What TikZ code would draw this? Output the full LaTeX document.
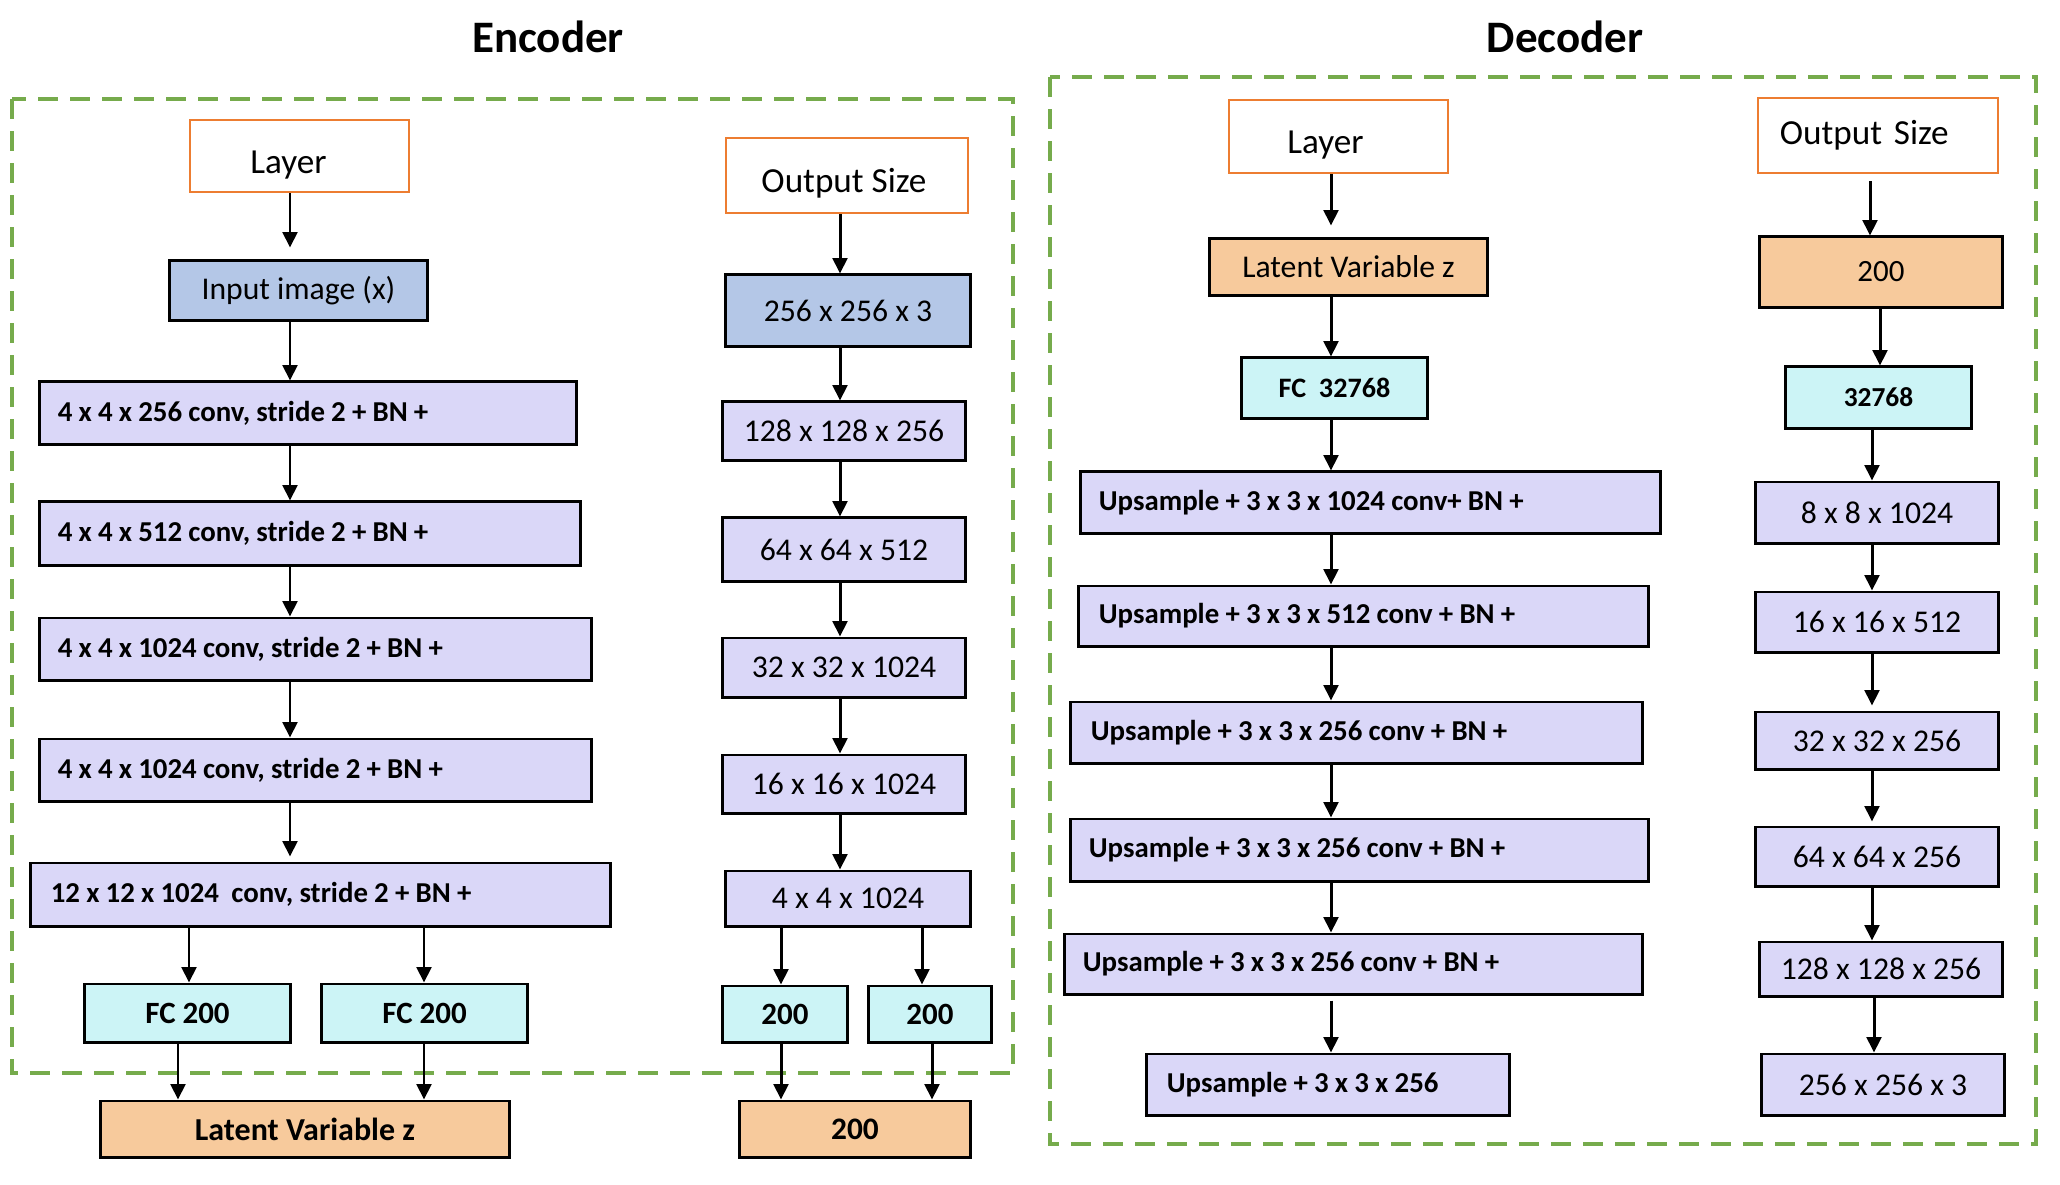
\documentclass[tikz,border=0pt]{standalone}
\usepackage{fontspec}
\setmainfont{Carlito}
\usetikzlibrary{arrows.meta}
\definecolor{lav}{HTML}{DAD7F8}
\definecolor{aqua}{HTML}{CCF4F6}
\definecolor{steel}{HTML}{B4C7E7}
\definecolor{peach}{HTML}{F7CA9C}
\definecolor{rust}{HTML}{ED7D31}
\definecolor{leaf}{HTML}{76AB4C}

\begin{document}
\begin{tikzpicture}[x=0.01cm,y=-0.01cm,
  box/.style={draw, line width=0.85pt, inner sep=0pt},
  hdr/.style={draw=rust, line width=0.75pt, inner sep=0pt, font=\fontsize{10}{12}\selectfont, text height=0.42cm, text depth=0.08cm},
  lyr/.style={box, fill=lav, align=left, inner xsep=0.18cm, font=\bfseries\fontsize{8.2}{10}\selectfont,
    execute at begin node={\spaceskip=0.215em\relax}},
  sz/.style={box, fill=lav, font=\fontsize{9}{11}\selectfont},
  fc/.style={box, fill=aqua, font=\bfseries\fontsize{8.8}{10}\selectfont},
  lat/.style={box, fill=peach},
  inp/.style={box, fill=steel, font=\fontsize{9}{11}\selectfont},
  ttl/.style={font=\bfseries\fontsize{12.8}{15}\selectfont},
  grp/.style={draw=leaf, line width=1.15pt, dash pattern=on 5.7pt off 3.4pt},
  arr/.style={-{Triangle[length=4.4pt,width=4.2pt]}, line width=0.85pt}]
\useasboundingbox (0,0) rectangle (2060,1184);

% Encoder
\node[ttl] (tEnc) at (548,37) {Encoder};
\draw[grp] (12,99) rectangle (1013,1073);

\node[hdr, minimum width=2.19cm, minimum height=0.72cm] (eLay) at (299.5,156) {Layer\kern0.22cm};
\node[inp, minimum width=2.57cm, minimum height=0.59cm] (eIn) at (298.5,290.5) {Input image (x)};
\node[lyr, text width=5.00cm, minimum height=0.62cm] (eC1) at (308,413) {4 x 4 x 256 conv, stride 2 + BN +};
\node[lyr, text width=5.04cm, minimum height=0.63cm] (eC2) at (310,533.5) {4 x 4 x 512 conv, stride 2 + BN +};
\node[lyr, text width=5.15cm, minimum height=0.62cm] (eC3) at (315.5,649) {4 x 4 x 1024 conv, stride 2 + BN +};
\node[lyr, text width=5.15cm, minimum height=0.62cm] (eC4) at (315.5,770) {4 x 4 x 1024 conv, stride 2 + BN +};
\node[lyr, text width=5.39cm, inner xsep=0.20cm, minimum height=0.63cm] (eC5) at (320.5,894.5) {12 x 12 x 1024\ \ conv, stride 2 + BN +};
\node[fc, minimum width=2.05cm, minimum height=0.58cm] (eFa) at (187.5,1013) {FC 200};
\node[fc, minimum width=2.05cm, minimum height=0.58cm] (eFb) at (424.5,1013) {FC 200};
\node[lat, font=\bfseries\fontsize{9.1}{11}\selectfont, minimum width=4.08cm, minimum height=0.56cm] (eZ) at (305,1129) {Latent Variable z};

\node[hdr, minimum width=2.42cm, minimum height=0.75cm] (eOut) at (847,175.5) {Output Size\kern0.06cm};
\node[inp, minimum width=2.44cm, minimum height=0.71cm] (eS0) at (848,310.5) {256 x 256 x 3};
\node[sz, minimum width=2.42cm, minimum height=0.58cm] (eS1) at (844,431) {128 x 128 x 256};
\node[sz, minimum width=2.42cm, minimum height=0.63cm] (eS2) at (844,549.5) {64 x 64 x 512};
\node[sz, minimum width=2.42cm, minimum height=0.59cm] (eS3) at (844,667.5) {32 x 32 x 1024};
\node[sz, minimum width=2.42cm, minimum height=0.58cm] (eS4) at (844,784) {16 x 16 x 1024};
\node[sz, minimum width=2.44cm, minimum height=0.55cm] (eS5) at (848,898.5) {4 x 4 x 1024};
\node[fc, minimum width=1.24cm, minimum height=0.56cm] (eTa) at (785,1014) {200};
\node[fc, minimum width=1.22cm, minimum height=0.56cm] (eTb) at (930,1014) {200};
\node[lat, font=\bfseries\fontsize{8.9}{11}\selectfont, minimum width=2.30cm, minimum height=0.56cm] (eZs) at (855,1129) {200};

\draw[arr, shorten >=0.12cm] (eLay.south -| 290,0) -- (eIn.north -| 290,0);
\draw[arr] (eIn.south -| 290,0) -- (eC1.north -| 290,0);
\draw[arr] (eC1.south -| 290,0) -- (eC2.north -| 290,0);
\draw[arr] (eC2.south -| 290,0) -- (eC3.north -| 290,0);
\draw[arr] (eC3.south -| 290,0) -- (eC4.north -| 290,0);
\draw[arr, shorten >=0.05cm] (eC4.south -| 290,0) -- (eC5.north -| 290,0);
\draw[arr] (eC5.south -| 189,0) -- (eFa.north -| 189,0);
\draw[arr] (eC5.south -| 424,0) -- (eFb.north -| 424,0);
\draw[arr] (eFa.south -| 178,0) -- (eZ.north -| 178,0);
\draw[arr] (eFb.south -| 424,0) -- (eZ.north -| 424,0);

\draw[arr] (eOut.south -| 840,0) -- (eS0.north -| 840,0);
\draw[arr] (eS0.south -| 840,0) -- (eS1.north -| 840,0);
\draw[arr] (eS1.south -| 840,0) -- (eS2.north -| 840,0);
\draw[arr] (eS2.south -| 840,0) -- (eS3.north -| 840,0);
\draw[arr] (eS3.south -| 840,0) -- (eS4.north -| 840,0);
\draw[arr] (eS4.south -| 840,0) -- (eS5.north -| 840,0);
\draw[arr] (eS5.south -| 781,0) -- (eTa.north -| 781,0);
\draw[arr] (eS5.south -| 922,0) -- (eTb.north -| 922,0);
\draw[arr] (eTa.south -| 781,0) -- (eZs.north -| 781,0);
\draw[arr] (eTb.south -| 932,0) -- (eZs.north -| 932,0);

%-------------------------------------
% Decoder
\node[ttl] (tDec) at (1565,37) {Decoder};
\draw[grp] (1050,77) rectangle (2036,1144);

\node[hdr, minimum width=2.19cm, minimum height=0.73cm] (dLay) at (1338.5,136.5) {Layer\kern0.26cm};
\node[lat, font=\fontsize{9}{11}\selectfont, minimum width=2.77cm, minimum height=0.56cm] (dZ) at (1348.5,267) {Latent Variable z};
\node[fc, font=\bfseries\fontsize{8}{10}\selectfont, minimum width=1.85cm, minimum height=0.60cm] (dF) at (1334.5,388) {FC\ \ 32768};
\node[lyr, text width=5.43cm, minimum height=0.61cm] (dU1) at (1370.5,502.5) {Upsample + 3 x 3 x 1024 conv+ BN +};
\node[lyr, text width=5.29cm, inner xsep=0.20cm, minimum height=0.60cm] (dU2) at (1363.5,616) {Upsample + 3 x 3 x 512 conv + BN +};
\node[lyr, text width=5.31cm, inner xsep=0.20cm, minimum height=0.61cm] (dU3) at (1356.5,732.5) {Upsample + 3 x 3 x 256 conv + BN +};
\node[lyr, text width=5.41cm, minimum height=0.62cm] (dU4) at (1359.5,850) {Upsample + 3 x 3 x 256 conv + BN +};
\node[lyr, text width=5.41cm, minimum height=0.60cm] (dU5) at (1353.5,964) {Upsample + 3 x 3 x 256 conv + BN +};
\node[lyr, text width=3.22cm, inner xsep=0.20cm, minimum height=0.61cm] (dU6) at (1328,1084.5) {Upsample + 3 x 3 x 256};

\node[hdr, text height=0.25cm, align=left, text width=1.96cm, inner xsep=0.22cm, minimum height=0.75cm] (dOut) at (1878,135.5) {Output Size};
\node[lat, font=\fontsize{8.8}{11}\selectfont, minimum width=2.42cm, minimum height=0.70cm] (dZs) at (1881,272) {200};
\node[fc, font=\bfseries\fontsize{7.8}{10}\selectfont, minimum width=1.85cm, minimum height=0.61cm] (dFs) at (1878.5,397.5) {32768};
\node[sz, minimum width=2.42cm, minimum height=0.61cm] (dS1) at (1877,512.5) {8 x 8 x 1024};
\node[sz, minimum width=2.42cm, minimum height=0.60cm] (dS2) at (1877,622) {16 x 16 x 512};
\node[sz, minimum width=2.42cm, minimum height=0.57cm] (dS3) at (1877,740.5) {32 x 32 x 256};
\node[sz, minimum width=2.42cm, minimum height=0.59cm] (dS4) at (1877,856.5) {64 x 64 x 256};
\node[sz, minimum width=2.42cm, minimum height=0.54cm] (dS5) at (1881,969) {128 x 128 x 256};
\node[sz, minimum width=2.42cm, minimum height=0.61cm] (dS6) at (1883,1084.5) {256 x 256 x 3};

\draw[arr, shorten >=0.12cm] (dLay.south -| 1331,0) -- (dZ.north -| 1331,0);
\draw[arr] (dZ.south -| 1331,0) -- (dF.north -| 1331,0);
\draw[arr] (dF.south -| 1331,0) -- (dU1.north -| 1331,0);
\draw[arr] (dU1.south -| 1331,0) -- (dU2.north -| 1331,0);
\draw[arr] (dU2.south -| 1331,0) -- (dU3.north -| 1331,0);
\draw[arr] (dU3.south -| 1331,0) -- (dU4.north -| 1331,0);
\draw[arr] (dU4.south -| 1331,0) -- (dU5.north -| 1331,0);
\draw[arr, shorten <=0.05cm] (dU5.south -| 1331,0) -- (dU6.north -| 1331,0);

\draw[arr, shorten <=0.07cm] (dOut.south -| 1870,0) -- (dZs.north -| 1870,0);
\draw[arr] (dZs.south -| 1880,0) -- (dFs.north -| 1880,0);
\draw[arr] (dFs.south -| 1872,0) -- (dS1.north -| 1872,0);
\draw[arr] (dS1.south -| 1872,0) -- (dS2.north -| 1872,0);
\draw[arr, shorten >=0.05cm] (dS2.south -| 1872,0) -- (dS3.north -| 1872,0);
\draw[arr, shorten >=0.04cm] (dS3.south -| 1872,0) -- (dS4.north -| 1872,0);
\draw[arr] (dS4.south -| 1872,0) -- (dS5.north -| 1872,0);
\draw[arr] (dS5.south -| 1874,0) -- (dS6.north -| 1874,0);

\end{tikzpicture}
\end{document}
